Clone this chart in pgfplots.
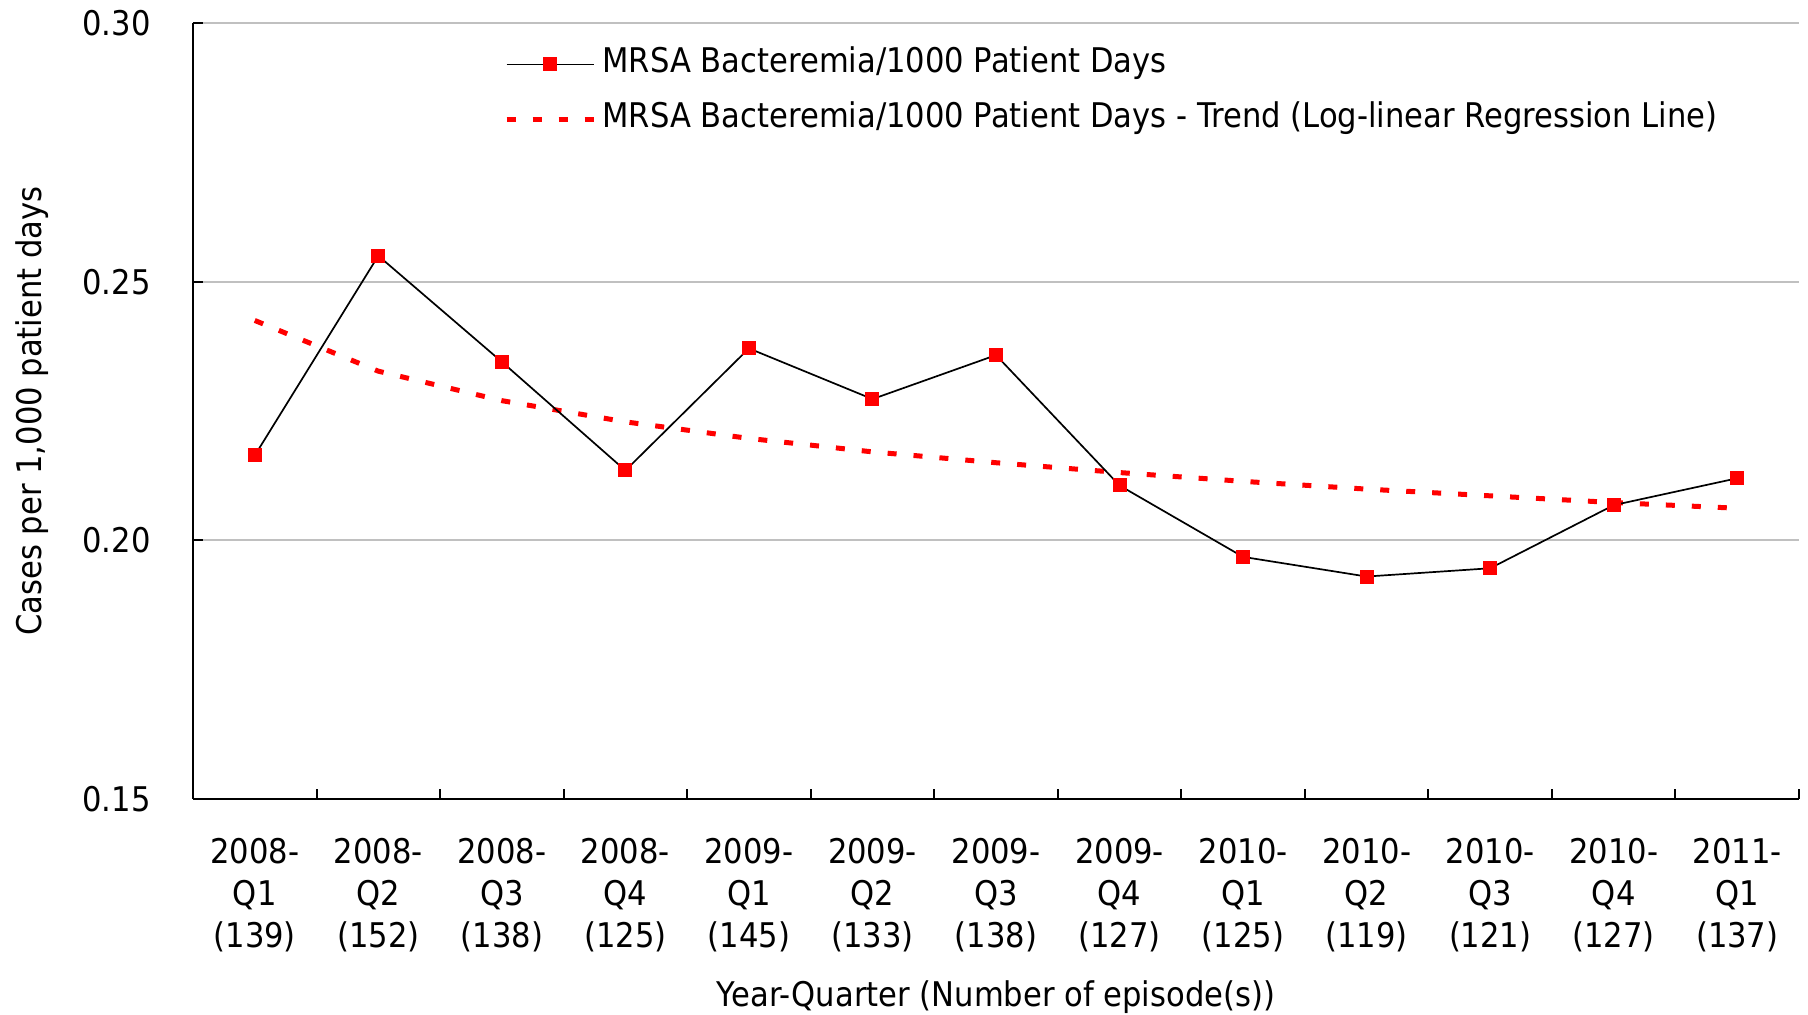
\documentclass[border=0pt]{standalone}
\usepackage{fontspec}
\setmainfont{DejaVu Sans}[FakeStretch=0.9]
\usepackage{pgfplots}
\pgfplotsset{compat=1.18}
\definecolor{gridgray}{HTML}{C0C0C0}
\newcommand{\chartfont}{\fontsize{17pt}{21pt}\selectfont}
\pgfplotsset{
    trend legend/.style={legend image code/.code={\draw[##1] (0pt,0pt) -- (43.5pt,0pt);}},
    data legend/.style={legend image code/.code={\draw[mark repeat=2,mark phase=2,##1] plot coordinates {(0pt,0pt) (21.75pt,0pt) (43.5pt,0pt)};}},
}

\begin{document}
\begin{tikzpicture}
\useasboundingbox (-96.5pt,-108pt) rectangle (807.5pt,399.5pt);
\begin{axis}[
    at={(0pt,0pt)}, anchor=south west,
    scale only axis, width=803pt, height=388pt,
    xmin=-0.5, xmax=12.5, ymin=0.15, ymax=0.30,
    axis x line*=bottom, axis y line*=left,
    axis line style={black, line width=1pt},
    tick align=inside, major tick length=5pt,
    tick style={black, line width=1pt},
    % boundary ticks between categories
    xtick={-0.5,0.5,...,12.5},
    xticklabels={},
    % category labels
    extra x ticks={0,1,...,12},
    extra x tick labels={{2008-\\Q1\\(139)},{2008-\\Q2\\(152)},{2008-\\Q3\\(138)},{2008-\\Q4\\(125)},
        {2009-\\Q1\\(145)},{2009-\\Q2\\(133)},{2009-\\Q3\\(138)},{2009-\\Q4\\(127)},
        {2010-\\Q1\\(125)},{2010-\\Q2\\(119)},{2010-\\Q3\\(121)},{2010-\\Q4\\(127)},{2011-\\Q1\\(137)}},
    extra x tick style={major tick length=0pt, grid=none},
    x tick label style={font=\chartfont, align=center, anchor=north, inner sep=0pt, yshift=-19.5pt},
    ytick={0.15,0.20,0.25,0.30},
    y tick label style={font=\chartfont, anchor=east, inner sep=0pt, xshift=-21pt,
        /pgf/number format/.cd, fixed, fixed zerofill, precision=2, assume math mode=true},
    ymajorgrids=true,
    grid style={gridgray, line width=1pt},
    xlabel={Year-Quarter (Number of episode(s))},
    xlabel style={font=\chartfont, at={(axis description cs:0.5,-0.268)}, anchor=base},
    ylabel={Cases per 1,000 patient days},
    ylabel style={font=\chartfont, at={(axis description cs:-0.0999,0.5)}, anchor=center},
    legend style={at={(axis description cs:0.1935,0.9678)}, anchor=north west,
        draw=none, fill=none, inner sep=0pt, font=\chartfont,
        row sep=11.7pt, column sep=3.2pt,
        nodes={inner sep=0pt, text height=12pt, text depth=4pt}},
    legend cell align=left,
    reverse legend,
]

% trend line
\addplot[red, line width=2.5pt, dash pattern=on 4.5pt off 8.5pt, trend legend]
coordinates {
    (0,0.2425) (1,0.2327) (2,0.2270) (3,0.2229) (4,0.2197) (5,0.2171) (6,0.2150)
    (7,0.2131) (8,0.2114) (9,0.2099) (10,0.2086) (11,0.2073) (12,0.2062)
};
\addlegendentry{MRSA Bacteremia/1000 Patient Days - Trend (Log-linear Regression Line)}

% observed rate
\addplot[black, line width=0.85pt, mark=square*, mark size=3.25pt,
    mark options={solid, fill=red, draw=red, line width=0pt}, data legend]
coordinates {
    (0,0.2164) (1,0.2550) (2,0.2345) (3,0.2135) (4,0.2371) (5,0.2273) (6,0.2358)
    (7,0.2106) (8,0.1968) (9,0.1930) (10,0.1946) (11,0.2068) (12,0.2120)
};
\addlegendentry{MRSA Bacteremia/1000 Patient Days}

\end{axis}
\end{tikzpicture}
\end{document}
